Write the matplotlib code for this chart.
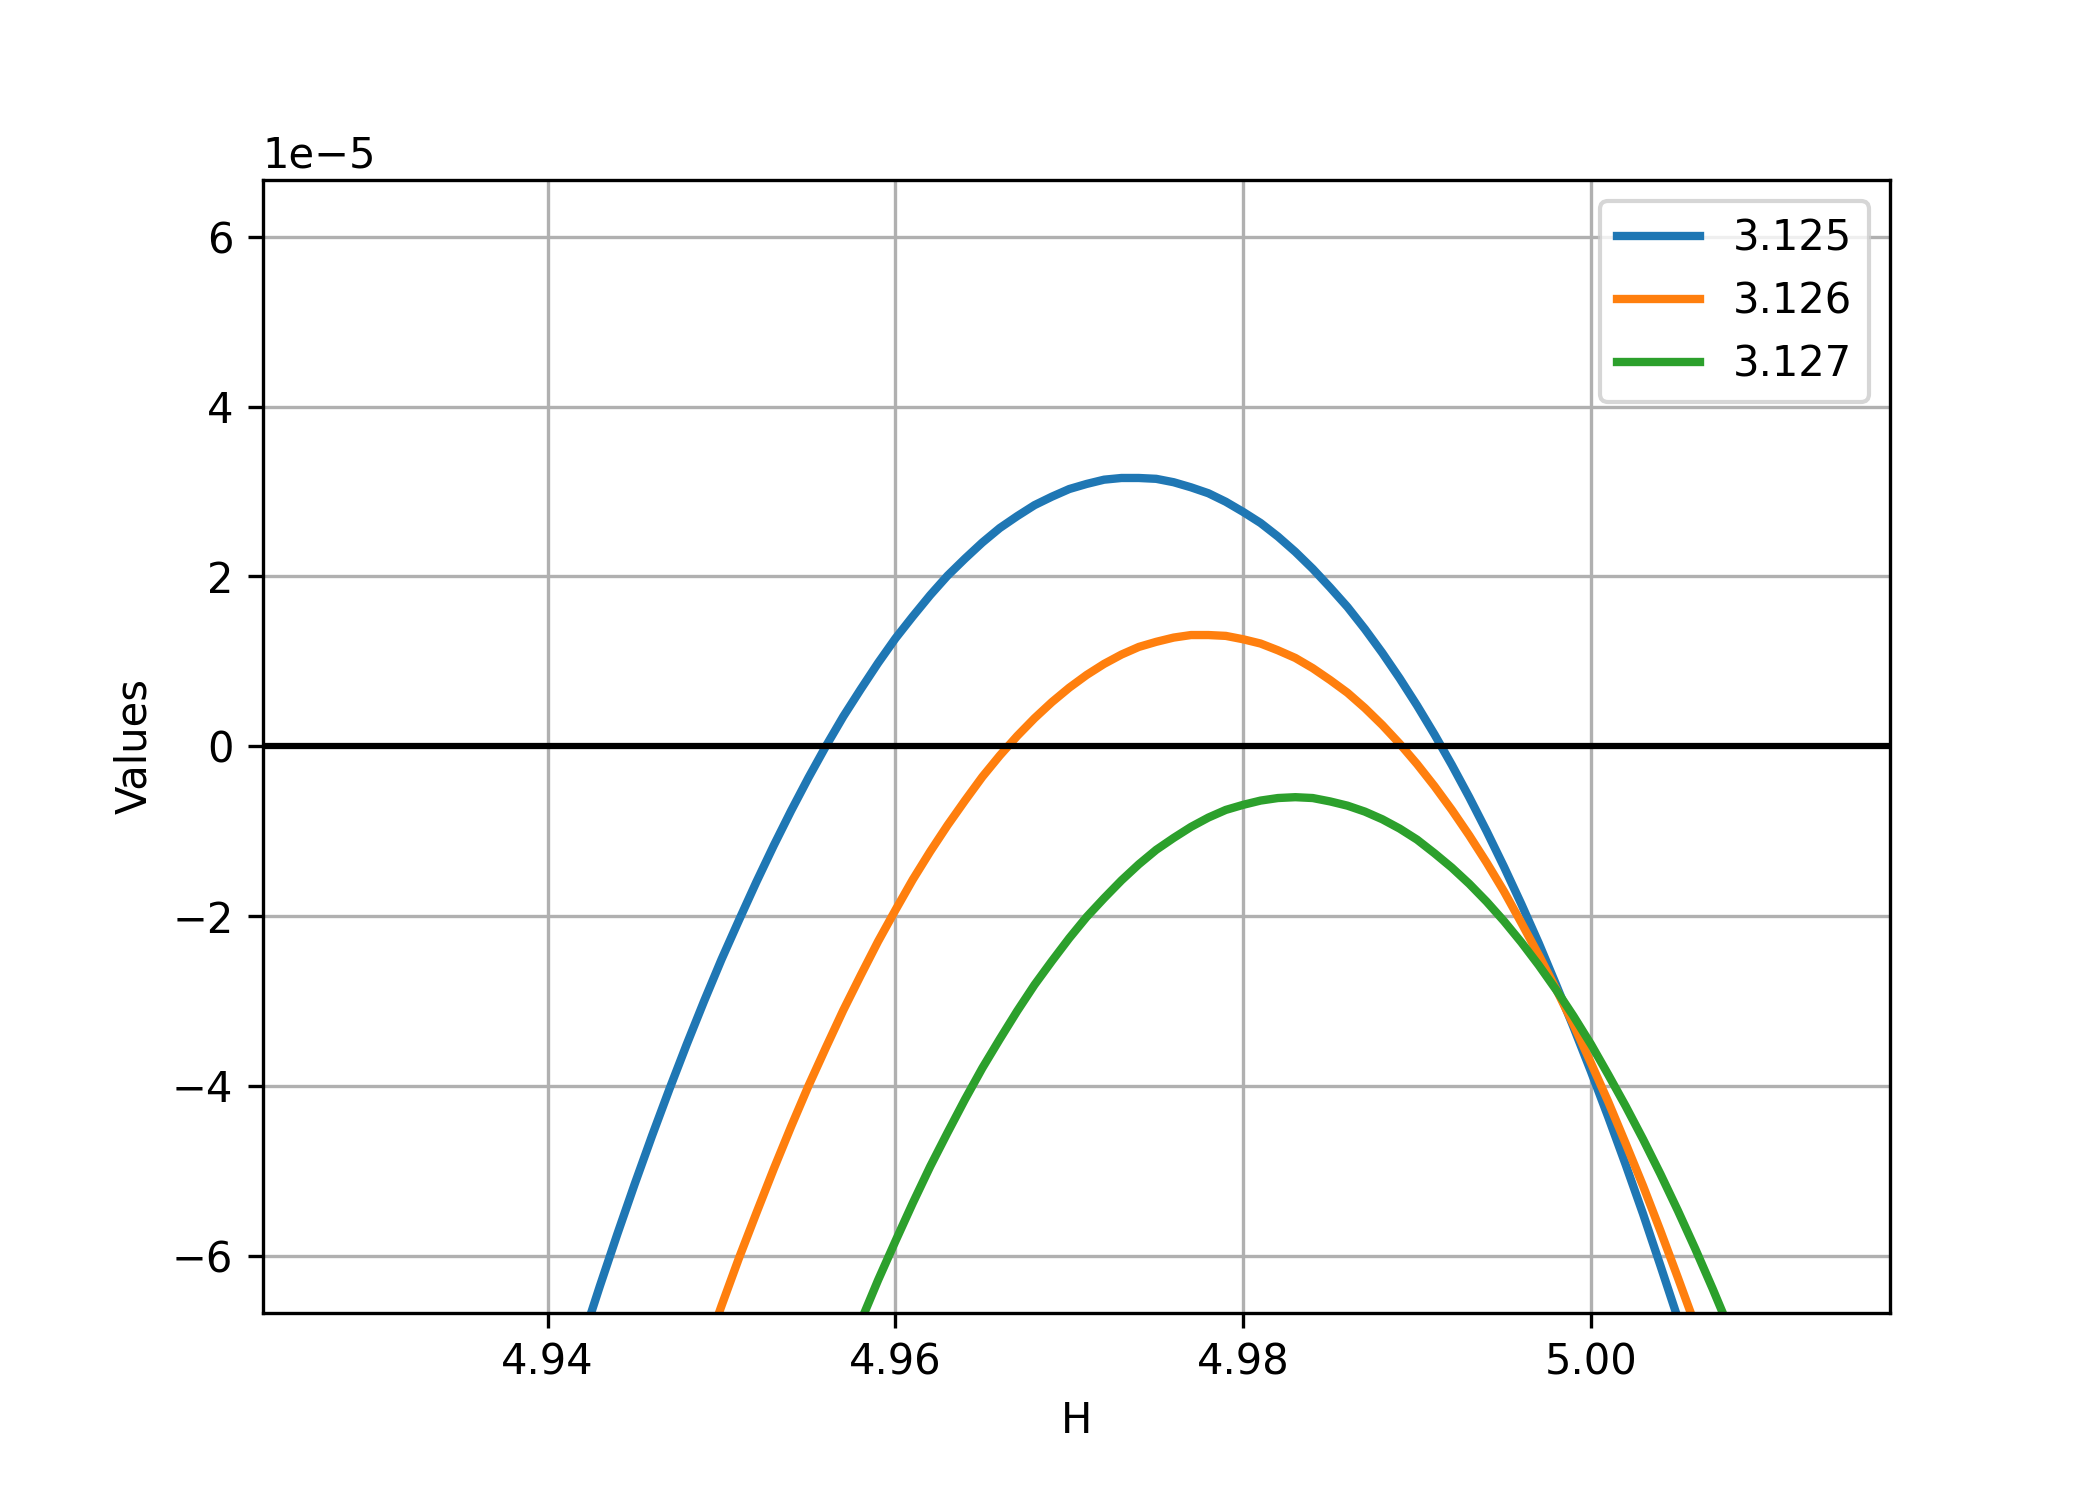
import matplotlib
matplotlib.use('Agg')
import matplotlib.pyplot as plt

# H values shared by all three curves
H = [4.940, 4.941, 4.942, 4.943, 4.944, 4.945, 4.946, 4.947, 4.948, 4.949,
     4.950, 4.951, 4.952, 4.953, 4.954, 4.955, 4.956, 4.957, 4.958, 4.959,
     4.960, 4.961, 4.962, 4.963, 4.964, 4.965, 4.966, 4.967, 4.968, 4.969,
     4.970, 4.971, 4.972, 4.973, 4.974, 4.975, 4.976, 4.977, 4.978, 4.979,
     4.980, 4.981, 4.982, 4.983, 4.984, 4.985, 4.986, 4.987, 4.988, 4.989,
     4.990, 4.991, 4.992, 4.993, 4.994, 4.995, 4.996, 4.997, 4.998, 4.999,
     5.000, 5.001, 5.002, 5.003, 5.004, 5.005, 5.006, 5.007, 5.008, 5.009,
     5.010]

# values, in units of 1e-5
v_3125 = [-8.32, -7.65, -6.99, -6.36, -5.75, -5.16, -4.59, -4.04, -3.51, -3.00,
          -2.51, -2.05, -1.60, -1.17, -0.76, -0.37, 0.00, 0.35, 0.67, 0.98,
          1.27, 1.53, 1.78, 2.01, 2.21, 2.40, 2.57, 2.71, 2.84, 2.94,
          3.03, 3.09, 3.14, 3.16, 3.16, 3.15, 3.11, 3.05, 2.98, 2.88,
          2.76, 2.63, 2.47, 2.29, 2.09, 1.87, 1.64, 1.38, 1.10, 0.80,
          0.48, 0.14, -0.22, -0.60, -1.00, -1.42, -1.86, -2.32, -2.81, -3.31,
          -3.83, -4.37, -4.93, -5.51, -6.12, -6.74, -7.38, -8.05, -8.73, -9.43,
          -10.16]
v_3126 = [-13.30, -12.54, -11.80, -11.08, -10.37, -9.69, -9.03, -8.39, -7.77, -7.17,
          -6.59, -6.03, -5.50, -4.98, -4.48, -4.00, -3.55, -3.11, -2.70, -2.30,
          -1.93, -1.57, -1.24, -0.93, -0.64, -0.36, -0.11, 0.12, 0.33, 0.52,
          0.69, 0.84, 0.97, 1.08, 1.17, 1.23, 1.28, 1.31, 1.31, 1.30,
          1.26, 1.21, 1.13, 1.04, 0.92, 0.78, 0.63, 0.45, 0.25, 0.03,
          -0.21, -0.47, -0.75, -1.05, -1.37, -1.71, -2.08, -2.46, -2.86, -3.28,
          -3.73, -4.19, -4.68, -5.18, -5.71, -6.26, -6.82, -7.41, -8.02, -8.65,
          -9.29]
v_3127 = [-18.94, -18.09, -17.27, -16.46, -15.68, -14.91, -14.17, -13.44, -12.74, -12.05,
          -11.39, -10.74, -10.12, -9.51, -8.92, -8.36, -7.81, -7.29, -6.78, -6.29,
          -5.83, -5.38, -4.95, -4.55, -4.16, -3.79, -3.45, -3.12, -2.81, -2.53,
          -2.26, -2.01, -1.79, -1.58, -1.39, -1.22, -1.08, -0.95, -0.84, -0.75,
          -0.69, -0.64, -0.61, -0.60, -0.61, -0.65, -0.70, -0.77, -0.86, -0.97,
          -1.10, -1.26, -1.43, -1.62, -1.83, -2.06, -2.31, -2.58, -2.87, -3.18,
          -3.51, -3.87, -4.24, -4.63, -5.04, -5.47, -5.92, -6.39, -6.88, -7.39,
          -7.92]
labels = ['3.125', '3.126', '3.127']

fig, ax = plt.subplots(figsize=(7, 5), dpi=300)
fig.subplots_adjust(bottom=0.125)
for vals, lab in zip([v_3125, v_3126, v_3127], labels):
    ax.plot(H, [v * 1e-5 for v in vals], lw=2, label=lab)
ax.axhline(0, color='k', lw=1.5)
ax.set_xlim(4.9236, 5.0172)
ax.set_ylim(-6.67e-5, 6.67e-5)
ax.set_xlabel('H')
ax.set_ylabel('Values')
ax.grid()
ax.legend(loc='upper right')
fig.savefig('out.png')
